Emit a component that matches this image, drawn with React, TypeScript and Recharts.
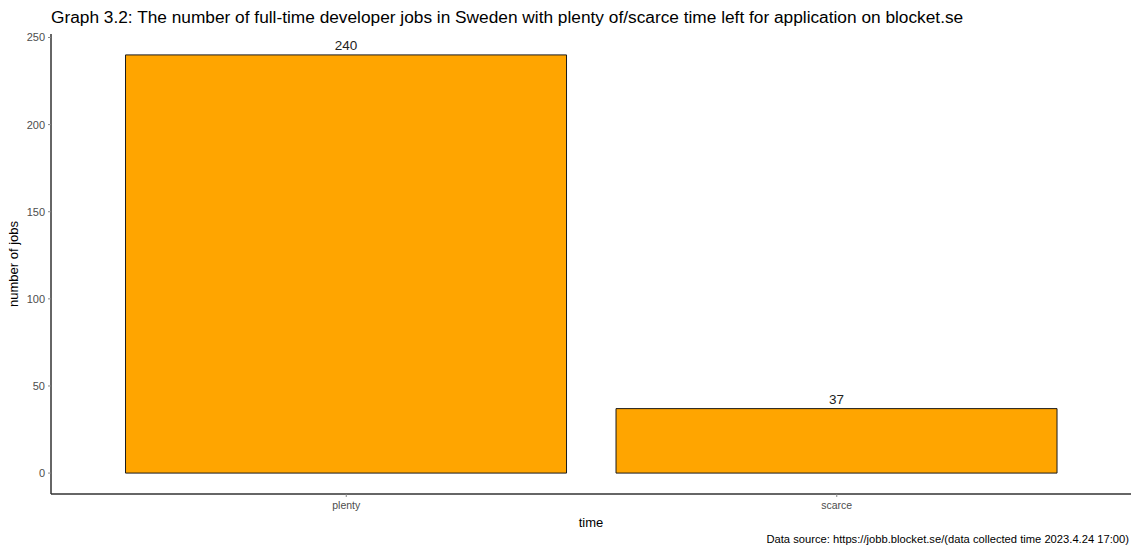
import React from 'react';
import { BarChart, Bar, XAxis, YAxis, LabelList } from 'recharts';

const categories = ['plenty', 'scarce'];
const jobCounts = [240, 37];
const yTicks = [0, 50, 100, 150, 200, 250];

const data = categories.map((time, i) => ({ time, jobs: jobCounts[i] }));

const FONT = '"Liberation Sans", Arial, sans-serif';
const TICK_GREY = '#4d4d4d';

export default function App() {
  return (
    <div style={{ position: 'absolute', left: 0, top: 0, width: 1131, height: 547, background: '#fff', fontFamily: FONT }}>
      <BarChart
        width={1131}
        height={547}
        data={data}
        margin={{ top: 34, right: 0, bottom: 22, left: 11 }}
        barCategoryGap="5%"
      >
        <text x={51} y={23} fontSize={17.3} fill="#000" fontFamily={FONT}>
          Graph 3.2: The number of full-time developer jobs in Sweden with plenty of/scarce time left for application on blocket.se
        </text>
        <XAxis
          dataKey="time"
          padding={{ left: 50, right: 49 }}
          axisLine={{ stroke: '#333', strokeWidth: 1.5 }}
          tickLine={{ stroke: '#888' }}
          tickSize={3}
          tickMargin={5}
          tick={{ fill: TICK_GREY, fontSize: 10.5, fontFamily: FONT }}
          height={31}
          label={{ value: 'time', position: 'insideBottom', offset: -2, fill: '#000', fontSize: 13, fontFamily: FONT }}
        />
        <YAxis
          domain={[-12, 252]}
          ticks={yTicks}
          width={40}
          axisLine={{ stroke: '#333', strokeWidth: 1.5 }}
          tickLine={{ stroke: '#888' }}
          tickSize={3}
          tickMargin={3}
          tick={{ fill: TICK_GREY, fontSize: 11, fontFamily: FONT }}
          label={{ value: 'number of jobs', angle: -90, position: 'insideLeft', offset: 2, fill: '#000', fontSize: 13, fontFamily: FONT, style: { textAnchor: 'middle' } }}
        />
        <Bar dataKey="jobs" fill="#FFA500" stroke="#1a1a1a" strokeWidth={1} isAnimationActive={false}>
          <LabelList dataKey="jobs" position="top" offset={5} fill="#222" fontSize={13.5} fontFamily={FONT} />
        </Bar>
        <text x={1129} y={543} fontSize={11.2} fill="#000" textAnchor="end" fontFamily={FONT}>
          Data source: https://jobb.blocket.se/(data collected time 2023.4.24 17:00)
        </text>
      </BarChart>
    </div>
  );
}
